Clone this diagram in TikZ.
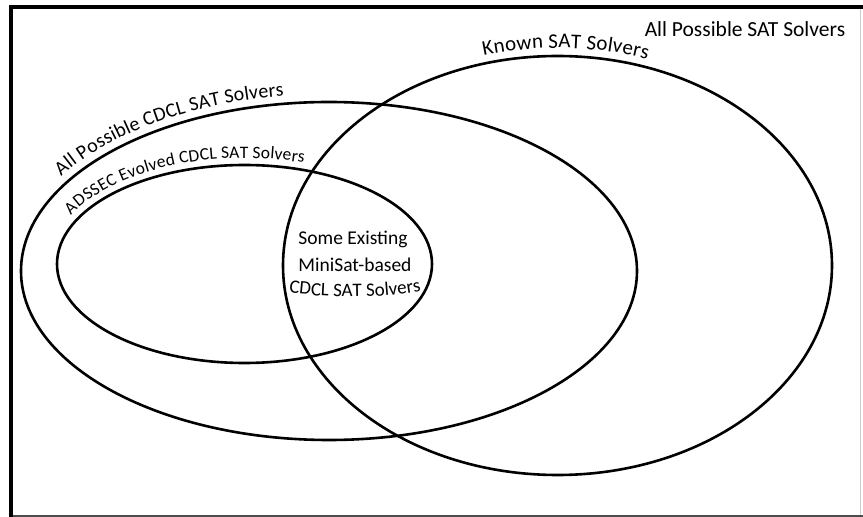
\documentclass[tikz,border=0pt]{standalone}
\usepackage{fontspec}
\setmainfont{Carlito}
\usetikzlibrary{shapes.geometric,decorations.text}
\begin{document}
\begin{tikzpicture}[x=1pt,y=1pt,
  setshape/.style={draw=black, line width=2.6pt, ellipse, inner sep=0pt, outer sep=0pt},
  lbl/.style={font=\fontsize{21.5}{25}\selectfont, inner sep=0pt},
  midlbl/.style={font=\fontsize{19.5}{23}\selectfont, inner sep=0pt, anchor=base},
]
\useasboundingbox (0,0) rectangle (863,517);
\fill[white] (0,0) rectangle (863,517);
% frame
\draw[black!20, line width=1pt] (860,1.5) -- (860,510);
\draw[black!70, line width=2.5pt] (9,1.2) -- (863,1.2);
\draw[black, line width=4pt] (11,0) -- (11,510) -- (863,510);
% sets
\node[setshape, minimum width=549pt, minimum height=419pt] (known) at (557.5,251.5) {};
\node[setshape, minimum width=616pt, minimum height=338pt] (cdcl) at (329,246) {};
\node[setshape, minimum width=375pt, minimum height=198pt] (adssec) at (244.5,253) {};
% curved labels
\path[decorate, decoration={text along path, text align=center, raise=8pt,
  text={|\fontsize{21}{25}\selectfont|Known SAT Solvers}}]
  (known.center) ++(148:274.5pt and 209.5pt)
  arc[start angle=148, end angle=28, x radius=274.5pt, y radius=209.5pt];
\path[decorate, decoration={text along path, raise=8pt,
  text={|\fontsize{20}{24}\selectfont|All Possible CDCL SAT Solvers}}]
  (cdcl.center) ++(148.5:308pt and 169pt)
  arc[start angle=148.5, end angle=60, x radius=308pt, y radius=169pt];
\path[decorate, decoration={text along path, raise=7pt,
  text={|\fontsize{17.5}{21}\selectfont|ADSSEC Evolved CDCL SAT Solvers}}]
  (adssec.center) ++(154:187.5pt and 99pt)
  arc[start angle=154, end angle=40, x radius=187.5pt, y radius=99pt];
% labels
\node[lbl, anchor=base] (allsat) at (745,480) {All Possible SAT Solvers};
\node[midlbl] (some) at (353,272) {Some Existing};
\node[midlbl] (mini) at (355,245) {MiniSat-based};
\coordinate (cl) at (280,226);
\coordinate (cr) at (430,228);
\path[decorate, decoration={text along path, text align=center,
  text={|\fontsize{19}{22}\selectfont|CDCL SAT Solvers}}]
  (cl) .. controls (325,218) and (385,218) .. (cr);
\end{tikzpicture}
\end{document}
